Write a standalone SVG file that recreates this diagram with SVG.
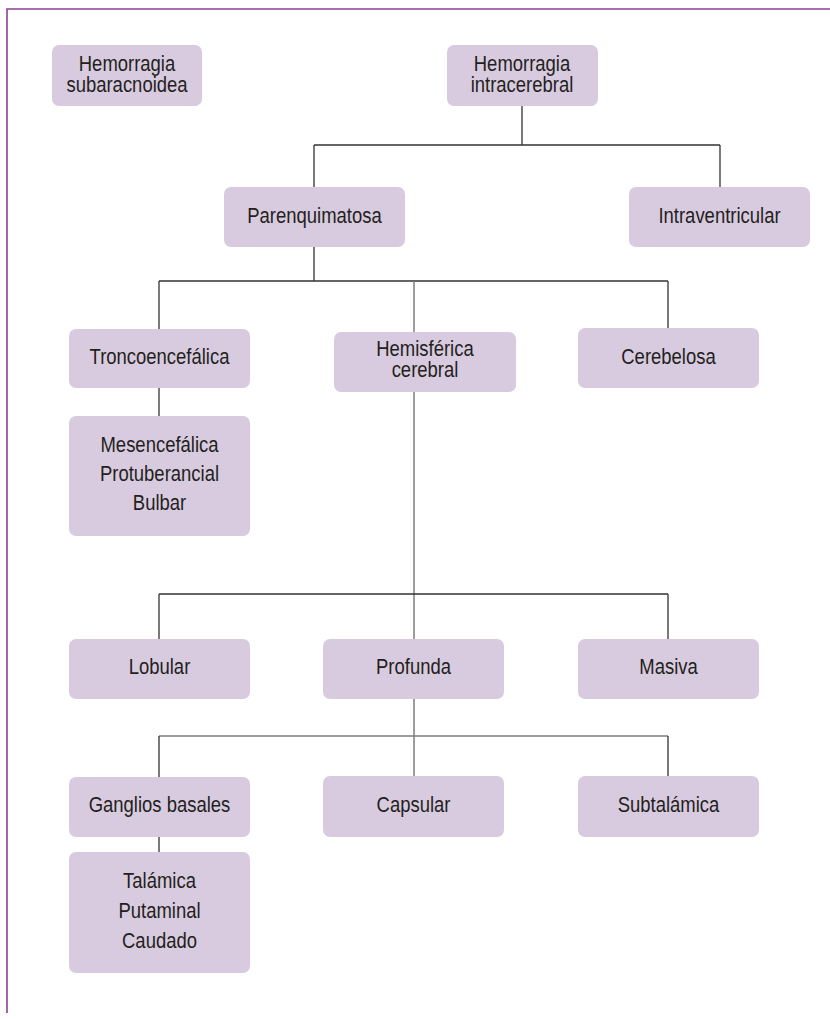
<svg xmlns="http://www.w3.org/2000/svg" width="830" height="1019" viewBox="0 0 830 1019">
<style>
.box{fill:#d9cbdf;}
.t{font-family:"Liberation Sans",Arial,sans-serif;font-size:22px;fill:#231f20;text-anchor:middle;}
.dk{stroke:#333333;stroke-width:1.3;fill:none;}
.gr{stroke:#7d7d7d;stroke-width:1.5;fill:none;}
.frame{stroke:#8e3f96;stroke-width:1.6;fill:none;}
</style>
<rect width="830" height="1019" fill="#ffffff"/>
<path class="frame" d="M7,1013 V9 H830"/>
<g id="connectors">
<path class="dk" d="M522,106 V145 M314,145 H720 M314,145 V187 M720,145 V187"/>
<path class="dk" d="M314,247 V281 M159,281 H668 M159,281 V329 M668,281 V328"/>
<path class="gr" d="M414,281 V332"/>
<path class="dk" d="M159,388 V416"/>
<path class="gr" d="M414,392 V639"/>
<path class="dk" d="M159,594 H668 M159,594 V639 M668,594 V639"/>
<path class="gr" d="M414,699 V776 M159,736 H668"/>
<path class="dk" d="M159,736 V777 M668,736 V776 M159,837 V852"/>
</g>
<g id="n-subaracnoidea"><rect class="box" x="52" y="45" width="150" height="61" rx="7"/><text class="t" transform="translate(127,70.5) scale(0.84,1)">Hemorragia</text><text class="t" transform="translate(127,91.5) scale(0.84,1)">subaracnoidea</text></g>
<g id="n-intracerebral"><rect class="box" x="447" y="45" width="151" height="61" rx="7"/><text class="t" transform="translate(522,70.5) scale(0.84,1)">Hemorragia</text><text class="t" transform="translate(522,91.5) scale(0.84,1)">intracerebral</text></g>
<g id="n-parenquimatosa"><rect class="box" x="224" y="187" width="181" height="60" rx="7"/><text class="t" transform="translate(314.5,223) scale(0.84,1)">Parenquimatosa</text></g>
<g id="n-intraventricular"><rect class="box" x="629" y="187" width="181" height="60" rx="7"/><text class="t" transform="translate(719.5,223) scale(0.84,1)">Intraventricular</text></g>
<g id="n-troncoencefalica"><rect class="box" x="69" y="329" width="181" height="59" rx="7"/><text class="t" transform="translate(159.5,364) scale(0.84,1)">Troncoencefálica</text></g>
<g id="n-hemisferica"><rect class="box" x="334" y="332" width="182" height="60" rx="7"/><text class="t" transform="translate(425,356) scale(0.84,1)">Hemisférica</text><text class="t" transform="translate(425,377) scale(0.84,1)">cerebral</text></g>
<g id="n-cerebelosa"><rect class="box" x="578" y="328" width="181" height="60" rx="7"/><text class="t" transform="translate(668.5,364) scale(0.84,1)">Cerebelosa</text></g>
<g id="n-mesencefalica"><rect class="box" x="69" y="416" width="181" height="120" rx="7"/><text class="t" transform="translate(159.5,452) scale(0.84,1)">Mesencefálica</text><text class="t" transform="translate(159.5,481) scale(0.84,1)">Protuberancial</text><text class="t" transform="translate(159.5,510) scale(0.84,1)">Bulbar</text></g>
<g id="n-lobular"><rect class="box" x="69" y="639" width="181" height="60" rx="7"/><text class="t" transform="translate(159.5,674) scale(0.84,1)">Lobular</text></g>
<g id="n-profunda"><rect class="box" x="323" y="639" width="181" height="60" rx="7"/><text class="t" transform="translate(413.5,674) scale(0.84,1)">Profunda</text></g>
<g id="n-masiva"><rect class="box" x="578" y="639" width="181" height="60" rx="7"/><text class="t" transform="translate(668.5,674) scale(0.84,1)">Masiva</text></g>
<g id="n-ganglios"><rect class="box" x="69" y="777" width="181" height="60" rx="7"/><text class="t" transform="translate(159.5,812) scale(0.84,1)">Ganglios basales</text></g>
<g id="n-capsular"><rect class="box" x="323" y="776" width="181" height="61" rx="7"/><text class="t" transform="translate(413.5,812) scale(0.84,1)">Capsular</text></g>
<g id="n-subtalamica"><rect class="box" x="578" y="776" width="181" height="61" rx="7"/><text class="t" transform="translate(668.5,812) scale(0.84,1)">Subtalámica</text></g>
<g id="n-talamica"><rect class="box" x="69" y="852" width="181" height="121" rx="7"/><text class="t" transform="translate(159.5,888) scale(0.84,1)">Talámica</text><text class="t" transform="translate(159.5,918) scale(0.84,1)">Putaminal</text><text class="t" transform="translate(159.5,948) scale(0.84,1)">Caudado</text></g>
</svg>
